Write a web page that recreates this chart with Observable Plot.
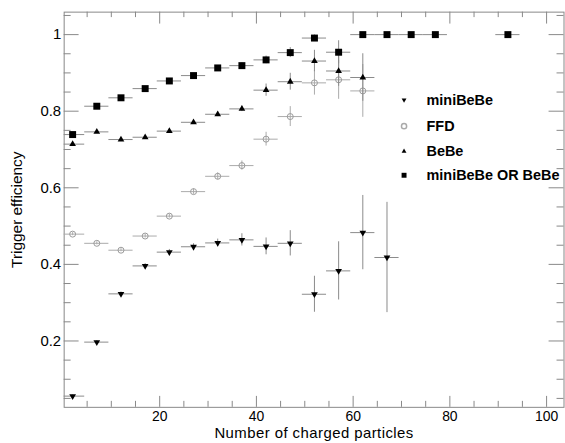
<!DOCTYPE html>
<html><head><meta charset="utf-8">
<script src="https://cdn.jsdelivr.net/npm/d3@7"></script>
<script src="https://cdn.jsdelivr.net/npm/@observablehq/plot@0.6"></script>
<style>
html,body{margin:0;padding:0;background:#fff;overflow:hidden;width:565px;height:443px}
#chart{position:relative;width:565px;height:443px;overflow:hidden}
svg{display:block}
</style></head><body><div id="chart"></div>
<script>
// ---- data ----
const centers = [2,7,12,17,22,27,32,37,42,47,52,57,62,67,72,77,92];
const binHalfWidth = 2.5;
const orEff  = [0.739,0.813,0.835,0.859,0.879,0.893,0.913,0.919,0.934,0.953,0.991,0.954,1,1,1,1,1];
const orErr  = [0.003,0.003,0.003,0.004,0.004,0.005,0.006,0.007,0.010,0.013,0.008,0.030,0,0,0,0,0];
const bebeEff = [0.714,0.746,0.726,0.732,0.748,0.771,0.792,0.806,0.855,0.877,0.931,0.905,0.888];
const bebeErr = [0.003,0.003,0.003,0.004,0.005,0.005,0.006,0.007,0.016,0.022,0.028,0.040,0.062];
const ffdEff = [0.479,0.455,0.437,0.474,0.526,0.590,0.630,0.658,0.727,0.786,0.874,0.882,0.853];
const ffdErr = [0.004,0.004,0.004,0.005,0.005,0.007,0.009,0.012,0.018,0.026,0.032,0.051,0.069];
const miniEff = [0.056,0.197,0.323,0.396,0.432,0.446,0.456,0.464,0.447,0.455,0.322,0.383,0.483,0.418];
const miniErr = [0.003,0.004,0.005,0.006,0.007,0.008,0.010,0.016,0.022,0.033,0.047,0.076,0.097,0.144];
const legendLabels = ["miniBeBe","FFD","BeBe","miniBeBe OR BeBe"];
const xMajor = [20,40,60,80,100];
const xMinor = [5,10,15,25,30,35,45,50,55,65,70,75,85,90,95];
const yMajor = [0.2,0.4,0.6,0.8,1];
const yMinor = [0.05,0.1,0.15,0.25,0.3,0.35,0.45,0.5,0.55,0.65,0.7,0.75,0.85,0.9,0.95,1.05];
const xTitle = "Number of charged particles";
const yTitle = "Trigger efficiency";

// ---- build tables ----
function series(eff, err) {
  return eff.map((v, i) => ({x: centers[i], y: v, e: err[i]}));
}
const sMini = series(miniEff, miniErr);
const sFFD = series(ffdEff, ffdErr);
const sBeBe = series(bebeEff, bebeErr);
const sOR = series(orEff, orErr);

// ---- layout ----
const W = 568, H = 443, mL = 64, mR = 1.5, mT = 11.7, mB = 34;
const plotH = H - mT - mB, plotW = W - mL - mR;
const axisColor = "#888";
const barDark = "#8a8a8a", barLight = "#aaaaaa";

function errMarks(s, color) {
  return [
    Plot.ruleY(s, {y: "y", x1: d => d.x - binHalfWidth, x2: d => d.x + binHalfWidth, stroke: color, strokeWidth: 1, clip: true}),
    Plot.ruleX(s, {x: "x", y1: d => d.y - d.e, y2: d => d.y + d.e, stroke: color, strokeWidth: 1, clip: true})
  ];
}

const legendRows = [100, 126.3, 151.7, 175.7];
const legendSym = [
  {symbol: "triangle", rotate: 180, r: 1.8, fill: "#000", stroke: "none"},
  {symbol: "circle", r: 2.6, fill: "none", stroke: "#aaa"},
  {symbol: "triangle", rotate: 0, r: 1.8, fill: "#000", stroke: "none"},
  {symbol: "square", r: 2.8, fill: "#000", stroke: "none"}
];
const legendMarks = [];
legendLabels.forEach((lab, i) => {
  legendMarks.push(Plot.dot([lab], {frameAnchor: "top-left", dx: 405.7 - mL, dy: legendRows[i] - mT, ...legendSym[i]}));
  legendMarks.push(Plot.text([lab], {frameAnchor: "top-left", dx: 428.3 - mL, dy: legendRows[i] - mT, textAnchor: "start", lineAnchor: "middle", fontWeight: "bold", fontSize: 14.5, fill: "#000"}));
});

const chart = Plot.plot({
  width: W, height: H,
  marginLeft: mL, marginRight: mR, marginTop: mT, marginBottom: mB,
  style: {fontFamily: "'Liberation Sans', Arial, Helvetica, sans-serif", background: "#fff", color: "#000"},
  x: {domain: [0.25, 103.6], axis: null},
  y: {domain: [0.0267, 1.0587], axis: null},
  marks: [
    // ticks (inside frame)
    Plot.ruleX(xMajor, {x: d => d, insetTop: plotH - 11, stroke: axisColor}),
    Plot.ruleX(xMinor, {x: d => d, insetTop: plotH - 6, stroke: axisColor}),
    Plot.ruleX(xMajor, {x: d => d, insetBottom: plotH - 12, stroke: axisColor}),
    Plot.ruleX(xMinor, {x: d => d, insetBottom: plotH - 5.5, stroke: axisColor}),
    Plot.ruleY(yMajor, {y: d => d, insetRight: plotW - 15, stroke: axisColor}),
    Plot.ruleY(yMinor, {y: d => d, insetRight: plotW - 7, stroke: axisColor}),
    Plot.ruleY(yMajor, {y: d => d, insetLeft: plotW - 15, stroke: axisColor}),
    Plot.ruleY(yMinor, {y: d => d, insetLeft: plotW - 7, stroke: axisColor}),
    Plot.frame({stroke: axisColor}),
    // tick labels
    Plot.axisX({ticks: xMajor, tickSize: 0, tickPadding: 4, fontSize: 14, label: null, anchor: "bottom"}),
    Plot.axisY({ticks: yMajor, tickSize: 0, tickPadding: 3, fontSize: 15, label: null, anchor: "left", tickFormat: d => d === 1 ? "1" : String(d)}),
    // titles
    Plot.text([xTitle], {frameAnchor: "bottom", dy: 30.6, lineAnchor: "bottom", fontSize: 15, fill: "#000"}),
    Plot.text([yTitle], {frameAnchor: "left", dx: -42, rotate: -90, lineAnchor: "bottom", textAnchor: "middle", fontSize: 15.5, fill: "#000"}),
    // series
    ...errMarks(sMini, barDark),
    Plot.dot(sMini, {x: "x", y: "y", symbol: "triangle", rotate: 180, r: 2.5, fill: "#000", stroke: "none"}),
    ...errMarks(sFFD, barLight),
    Plot.dot(sFFD, {x: "x", y: "y", symbol: "circle", r: 3, fill: "none", stroke: "#999", strokeWidth: 1}),
    ...errMarks(sBeBe, barDark),
    Plot.dot(sBeBe, {x: "x", y: "y", symbol: "triangle", r: 2.5, fill: "#000", stroke: "none"}),
    ...errMarks(sOR, barDark),
    Plot.dot(sOR, {x: "x", y: "y", symbol: "square", r: 3.95, fill: "#000", stroke: "none"}),
    // legend
    ...legendMarks
  ]
});
d3.select(chart).selectAll("text").filter(function() { return this.textContent === xTitle; })
  .attr("letter-spacing", "0.45px");
document.getElementById("chart").appendChild(chart);
</script>
</body></html>
